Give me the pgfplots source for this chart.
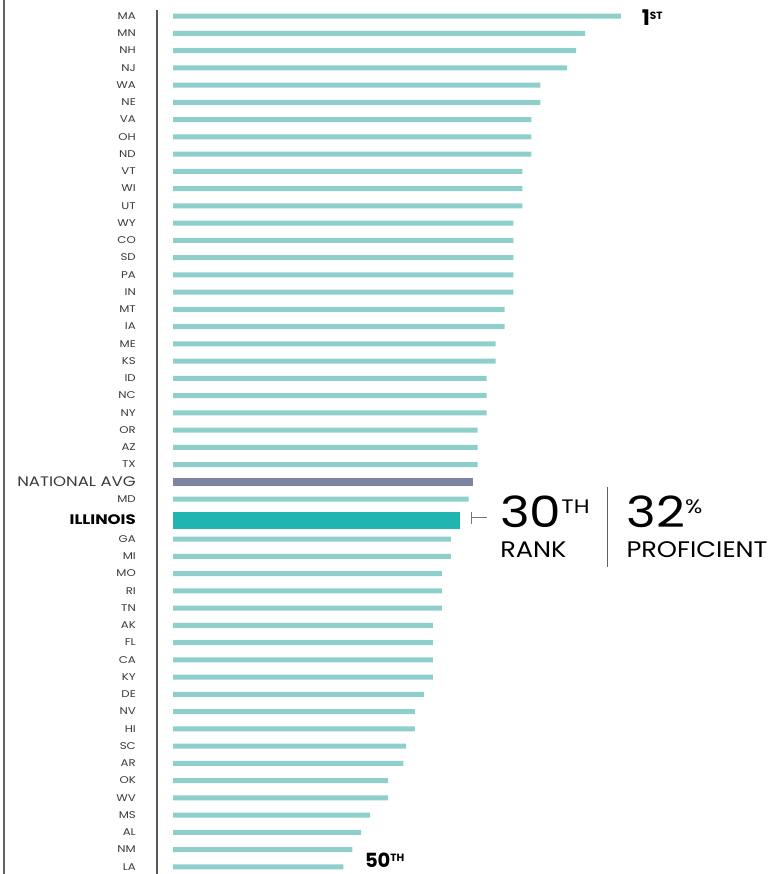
\documentclass[border=0pt]{standalone}
\usepackage{pgfplots}
\pgfplotsset{compat=1.18}
\usepackage{fontspec}
\usepackage{graphicx}
\setmainfont{Poppins}
\definecolor{barlt}{HTML}{8FCFCB}
\definecolor{baravg}{HTML}{7F84A2}
\definecolor{baril}{HTML}{20B5AE}
\definecolor{lbl}{HTML}{3A3A3A}
\newcommand{\W}[1]{\scalebox{1.2}[1]{#1}}
\newcommand{\biglbl}[1]{{\fontsize{13.8bp}{15bp}\selectfont\W{#1}}}
\begin{document}
\begin{tikzpicture}
\path[use as bounding box] (-157bp,0) rectangle (627bp,874bp);
\draw[color=lbl!80, line width=1.2bp] (-153bp,0) -- (-153bp,874bp);
\begin{axis}[
  at={(0,0)}, anchor=south west,
  scale only axis, width=627bp, height=864bp,
  xmin=-1.8, xmax=68.2,
  ymin=-0.35, ymax=49.74,
  y dir=reverse,
  axis x line=none,
  axis y line=left,
  axis line style={-, color=lbl!85, line width=1.3bp},
  major tick length=0pt,
  ytick={0,1,2,3,4,5,6,7,8,9,10,11,12,13,14,15,16,17,18,19,20,21,22,23,24,25,26,27,28,29.22,30.32,31.32,32.32,33.32,34.32,35.32,36.32,37.32,38.32,39.32,40.32,41.32,42.32,43.32,44.32,45.32,46.32,47.32,48.32,49.32},
  yticklabels={\W{MA},\W{MN},\W{NH},\W{NJ},\W{WA},\W{NE},\W{VA},\W{OH},\W{ND},\W{VT},\W{WI},\W{UT},\W{WY},\W{CO},\W{SD},\W{PA},\W{IN},\W{MT},\W{IA},\W{ME},\W{KS},\W{ID},\W{NC},\W{NY},\W{OR},\W{AZ},\W{TX},\biglbl{NATIONAL AVG},\W{MD},\biglbl{\textcolor{black}{\textbf{ILLINOIS}}},\W{GA},\W{MI},\W{MO},\W{RI},\W{TN},\W{AK},\W{FL},\W{CA},\W{KY},\W{DE},\W{NV},\W{HI},\W{SC},\W{AR},\W{OK},\W{WV},\W{MS},\W{AL},\W{NM},\W{LA}},
  yticklabel style={anchor=east, inner sep=0pt, xshift=-21bp, font=\fontsize{9.8bp}{12bp}\selectfont, color=lbl},
  clip=false,
]
\addplot[xbar, bar width=5bp, bar shift=0pt, fill=barlt, draw=none] coordinates {
(50,0) (46,1) (45,2) (44,3) (41,4) (41,5) (40,6) (40,7) (40,8) (39,9) (39,10) (39,11) (38,12) (38,13) (38,14) (38,15) (38,16) (37,17) (37,18) (36,19) (36,20) (35,21) (35,22) (35,23) (34,24) (34,25) (34,26) (33,28)
(31,30.32) (31,31.32) (30,32.32) (30,33.32) (30,34.32) (29,35.32) (29,36.32) (29,37.32) (29,38.32) (28,39.32) (27,40.32) (27,41.32) (26,42.32) (25.7,43.32) (24,44.32) (24,45.32) (22,46.32) (21,47.32) (20,48.32) (19,49.32)
};
\addplot[xbar, bar width=8bp, bar shift=0pt, fill=baravg, draw=none] coordinates {(33.5,27)};
\addplot[xbar, bar width=17bp, bar shift=0pt, fill=baril, draw=none] coordinates {(32,29.22)};
% annotations
\node[anchor=west, inner sep=0pt] at (axis cs:52.3,0.12) {\fontsize{21.5bp}{23bp}\selectfont\textbf{1}\raisebox{6.5bp}{\fontsize{10.5bp}{11bp}\selectfont\textbf{ST}}};
\node[anchor=west, inner sep=0pt] at (axis cs:21.4,48.95) {\fontsize{19.5bp}{21bp}\selectfont\textbf{50}\raisebox{6bp}{\fontsize{10.5bp}{11bp}\selectfont\textbf{TH}}};
\node[anchor=west, inner sep=0pt] at (axis cs:36.5,28.72) {\scalebox{1.17}[1]{\fontsize{43bp}{45bp}\selectfont 30\raisebox{14bp}{\fontsize{19.5bp}{20bp}\selectfont TH}}};
\node[anchor=west, inner sep=0pt] at (axis cs:36.5,30.96) {\scalebox{1.14}[1]{\fontsize{22.5bp}{24bp}\selectfont RANK}};
\node[anchor=west, inner sep=0pt] at (axis cs:50.6,28.72) {\scalebox{1.17}[1]{\fontsize{43bp}{45bp}\selectfont 32\raisebox{14bp}{\fontsize{19.5bp}{20bp}\selectfont\%}}};
\node[anchor=west, inner sep=0pt] at (axis cs:50.6,30.96) {\scalebox{1.14}[1]{\fontsize{22.5bp}{24bp}\selectfont PROFICIENT}};
\draw[color=lbl!80, line width=1.2bp] (axis cs:48.5,27.3) -- (axis cs:48.5,31.94);
\draw[color=lbl!70, line width=1bp] (axis cs:33.3,28.75) -- (axis cs:33.3,29.45);
\draw[color=lbl!70, line width=1bp] (axis cs:33.3,29.1) -- (axis cs:35.0,29.1);
\end{axis}
\end{tikzpicture}
\end{document}
